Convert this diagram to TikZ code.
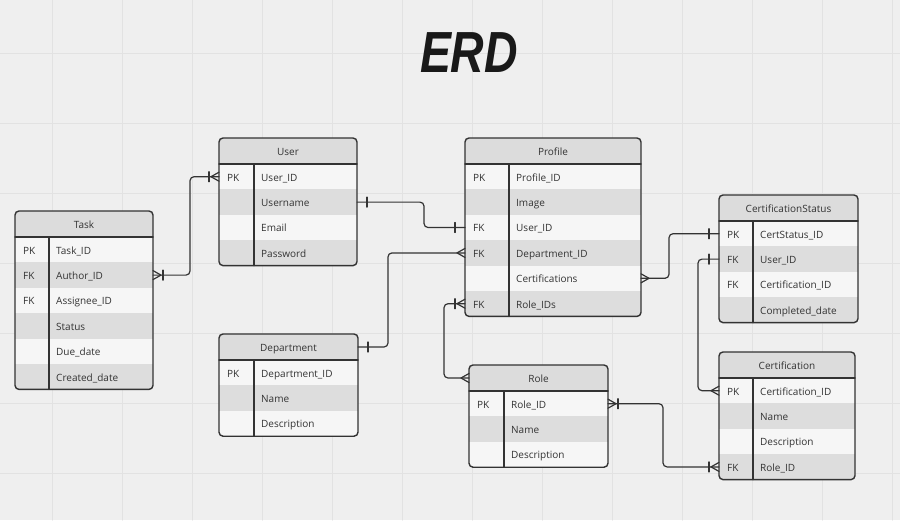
\documentclass[tikz,border=0pt]{standalone}
\usepackage{fontspec}
\setmainfont{Open Sans}
\newfontfamily\titlefont{Liberation Sans}
\definecolor{bg}{HTML}{EFEFEF}
\definecolor{gridc}{HTML}{E2E2E2}
\definecolor{hdfill}{HTML}{DCDCDC}
\definecolor{rowlt}{HTML}{F6F6F6}
\definecolor{rowdk}{HTML}{DDDDDD}
\definecolor{ink}{HTML}{333333}
\newcommand{\entity}[8]{%
\pgfmathsetmacro{\entbot}{#3+26+25.4*#6}
\begin{scope}
\clip[rounded corners=4] (#2,#3) rectangle (#2+#4,\entbot);
\node[hdbox,minimum width=#4] (#1) at (#2,#3) {#7};
\foreach \k/\f [count=\i] in {#8}
{
\pgfmathsetmacro{\rtop}{#3+26+25.4*(\i-1)}
\ifodd\i \def\rowcol{rowlt}\else\def\rowcol{rowdk}\fi
\node[rowbox,minimum width=#4,fill=\rowcol] (#1-\i) at (#2,\rtop) {};
\node[txt] (#1-\i-k) at (#2+8,\rtop+17) {\k};
\node[txt] (#1-\i-f) at (#2+#5+7,\rtop+17) {\f};
}
\end{scope}
\draw[edge] (#2,#3+26) -- (#2+#4,#3+26);
\draw[edge] (#2+#5,#3+26) -- (#2+#5,\entbot);
\draw[edge,rounded corners=4] (#2,#3) rectangle (#2+#4,\entbot);
}
\newcommand{\manyL}[1]{\draw[tipline] (#1) ++(0,-4.5) -- ++(-8,4.5) -- ++(8,4.5);}
\newcommand{\manyR}[1]{\draw[tipline] (#1) ++(0,-4.5) -- ++(8,4.5) -- ++(-8,4.5);}
\newcommand{\oneL}[1]{\draw[tipline] (#1) ++(-10,-5) -- ++(0,10);}
\newcommand{\oneR}[1]{\draw[tipline] (#1) ++(10,-5) -- ++(0,10);}
\begin{document}
\begin{tikzpicture}[x=1pt,y=-1pt,line cap=round,line join=round,
hdbox/.style={anchor=north west,minimum height=26,inner sep=0,outer sep=0,fill=hdfill,text=ink,text height=8.4,text depth=0,font=\fontsize{10}{12}\selectfont},
rowbox/.style={anchor=north west,minimum height=25.4,inner sep=0,outer sep=0},
txt/.style={anchor=base west,inner sep=0,text=ink,font=\fontsize{10}{12}\selectfont},
edge/.style={draw=ink,line width=1.4},
conn/.style={draw=ink,line width=1.2,rounded corners=4},
tipline/.style={draw=ink,line width=1.2}]
\fill[bg] (0,0) rectangle (900,520);
\useasboundingbox (0,0) rectangle (900,520);
\foreach \x in {52,122,...,892}
{
\draw[gridc,line width=1] (\x,0)--(\x,520);
}
\foreach \y in {53,123,...,473}
{
\draw[gridc,line width=1] (0,\y)--(900,\y);
}
\node[anchor=base,xscale=0.8,text=black!90,font=\titlefont\bfseries\itshape\fontsize{58}{60}\selectfont] (title) at (469,72) {ERD};
\entity{task}{15}{211}{138}{34}{6}{Task}{PK/Task\_ID,FK/Author\_ID,FK/Assignee\_ID,{}/Status,{}/Due\_date,{}/Created\_date}
\entity{user}{219}{138}{138}{35}{4}{User}{PK/User\_ID,{}/Username,{}/Email,{}/Password}
\entity{profile}{465}{138}{176}{44}{6}{Profile}{PK/Profile\_ID,{}/Image,FK/User\_ID,FK/Department\_ID,{}/Certifications,FK/Role\_IDs}
\entity{certstatus}{719}{195}{139}{34}{4}{CertificationStatus}{PK/CertStatus\_ID,FK/User\_ID,FK/Certification\_ID,{}/Completed\_date}
\entity{certification}{719}{352}{136}{34}{4}{Certification}{PK/Certification\_ID,{}/Name,{}/Description,FK/Role\_ID}
\entity{department}{219}{334}{139}{35}{3}{Department}{PK/Department\_ID,{}/Name,{}/Description}
\entity{role}{469}{365}{139}{35}{3}{Role}{PK/Role\_ID,{}/Name,{}/Description}
\draw[conn] (task-2.east) -- ++(37,0) |- (user-1.west);
\draw[conn] (user-2.east) -- ++(67,0) |- (profile-3.west);
\draw[conn] (department.east) -- ++(30,0) |- (profile-4.west);
\draw[conn] (profile-6.west) -- ++(-21,0) |- (role.west);
\draw[conn] (role-1.east) -- ++(55,0) |- (certification-4.west);
\draw[conn] (profile-5.east) -- ++(28,0) |- (certstatus-1.west);
\draw[conn] (certstatus-2.west) -- ++(-21,0) |- (certification-1.west);
\manyR{task-2.east} \oneR{task-2.east}
\manyL{user-1.west} \oneL{user-1.west}
\oneR{user-2.east} \oneL{profile-3.west}
\oneR{department.east} \manyL{profile-4.west}
\manyL{profile-6.west} \oneL{profile-6.west} \manyL{role.west}
\manyR{role-1.east} \oneR{role-1.east}
\manyL{certification-4.west} \oneL{certification-4.west}
\manyR{profile-5.east} \oneL{certstatus-1.west}
\oneL{certstatus-2.west} \manyL{certification-1.west}
\end{tikzpicture}
\end{document}
